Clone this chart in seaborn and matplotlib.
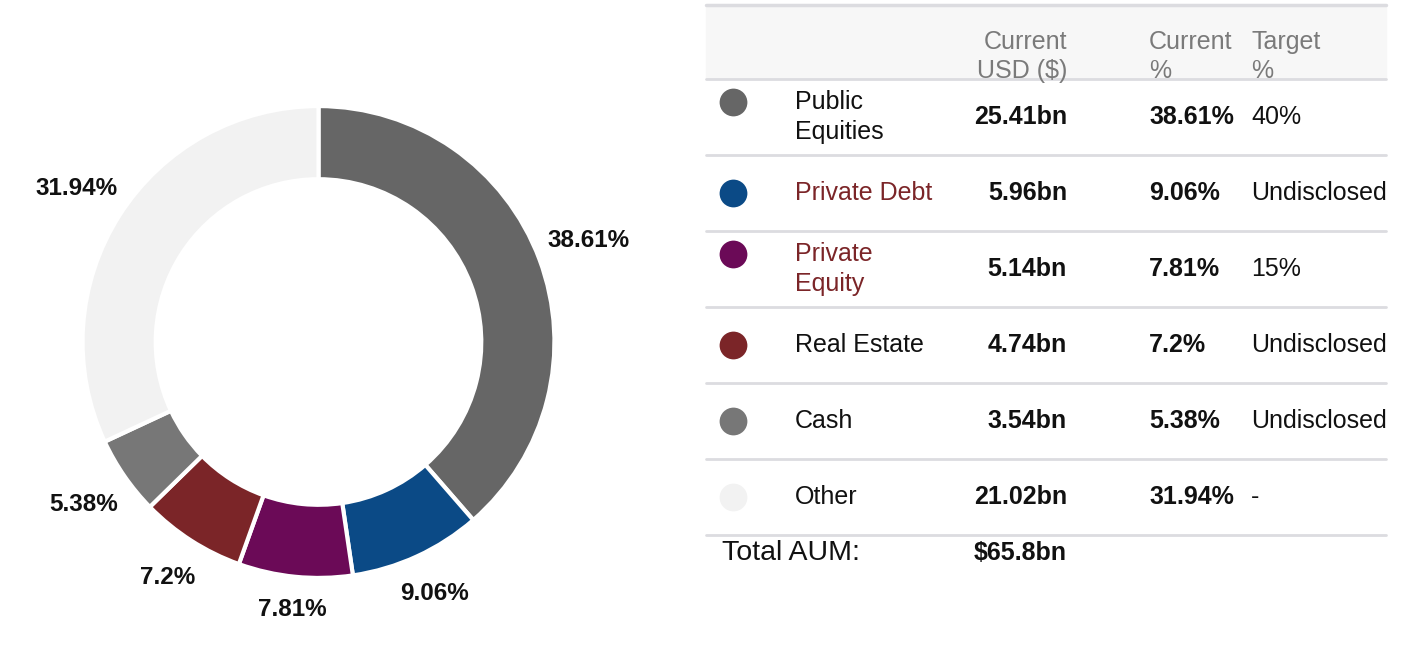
import matplotlib
matplotlib.use("Agg")
import numpy as np
import matplotlib.pyplot as plt
import seaborn as sns

categories = ["Public Equities", "Private Debt", "Private Equity", "Real Estate", "Cash", "Other"]
row_labels = ["Public\nEquities", "Private Debt", "Private\nEquity", "Real Estate", "Cash", "Other"]
usd_bn = [25.41, 5.96, 5.14, 4.74, 3.54, 21.02]
current_pct = [38.61, 9.06, 7.81, 7.2, 5.38, 31.94]
target_pct = ["40%", "Undisclosed", "15%", "Undisclosed", "Undisclosed", "-"]
total_aum = 65.8
colors = ["#666666", "#0b4a86", "#6b0a57", "#7b2528", "#777777", "#f2f2f2"]
name_colors = ["#111111", "#7b2528", "#7b2528", "#111111", "#111111", "#111111"]

sns.set_theme(style="white")
plt.rcParams["font.family"] = ["Liberation Sans", "DejaVu Sans"]
palette = sns.color_palette(colors)

W, H = 1416, 654
fig = plt.figure(figsize=(W / 100, H / 100), dpi=100)

# donut
ax = fig.add_axes([0, -6.5 / H, 637 / W, 637 / H])
wedges, texts = ax.pie(
    current_pct,
    labels=[f"{v:g}%" for v in current_pct],
    colors=palette,
    startangle=90,
    counterclock=False,
    wedgeprops=dict(width=0.31, edgecolor="white", linewidth=3),
    textprops=dict(fontsize=17.5, fontweight="bold", color="#111111"),
)
# labels pushed a bit further out on the sides than at the bottom
for w, t in zip(wedges, texts):
    ang = np.deg2rad((w.theta1 + w.theta2) / 2)
    dx, dy = np.cos(ang), np.sin(ang)
    r = 1.13 + 0.1 * abs(dx)
    t.set_position((r * dx, r * dy))
    t.set_ha("center")
    t.set_va("center")
ax.set_xlim(-1.35, 1.35)
ax.set_ylim(-1.35, 1.35)
ax.set_aspect("equal")
ax.axis("off")

# table
tx = fig.add_axes([0, 0, 1, 1])
tx.set_xlim(0, W)
tx.set_ylim(H, 0)
tx.axis("off")

x0, x1 = 706, 1386
line_c = "#dcdce0"
tx.fill_between([x0, x1], 5, 79, color="#f7f7f7", zorder=0)
tx.plot([x0, x1], [5, 5], color=line_c, lw=2.5)
hdr = dict(fontsize=18, color="#7a7a7a", va="center")
tx.text(1067, 42, "Current", ha="right", **hdr)
tx.text(1067, 71, "USD ($)", ha="right", **hdr)
tx.text(1149, 42, "Current", ha="left", **hdr)
tx.text(1149, 71, "%", ha="left", **hdr)
tx.text(1251, 42, "Target", ha="left", **hdr)
tx.text(1251, 71, "%", ha="left", **hdr)

row_h = 76
top = 79
for i, cat in enumerate(categories):
    y_top = top + i * row_h
    yc = y_top + 38
    two_line = "\n" in row_labels[i]
    tx.plot([x0, x1], [y_top, y_top], color=line_c, lw=2)
    dot_y = y_top + 23 if two_line else yc
    tx.scatter([733], [dot_y], s=400, color=palette[i], linewidths=0, zorder=3)
    tx.text(795, yc, row_labels[i], ha="left", va="center", fontsize=18,
            color=name_colors[i], linespacing=1.35)
    tx.text(1067, yc, f"{usd_bn[i]:g}bn", ha="right", va="center",
            fontsize=18, fontweight="bold", color="#111111")
    tx.text(1149, yc, f"{current_pct[i]:g}%", ha="left", va="center",
            fontsize=18, fontweight="bold", color="#111111")
    tx.text(1251, yc, target_pct[i], ha="left", va="center", fontsize=18, color="#111111")
tx.plot([x0, x1], [top + 6 * row_h, top + 6 * row_h], color=line_c, lw=2)

tx.text(722, 553, "Total AUM:", ha="left", va="center", fontsize=20.5, color="#111111")
tx.text(1067, 553, f"${total_aum:g}bn", ha="right", va="center",
        fontsize=18, fontweight="bold", color="#111111")

fig.savefig("out.png", dpi=100, facecolor="white")
